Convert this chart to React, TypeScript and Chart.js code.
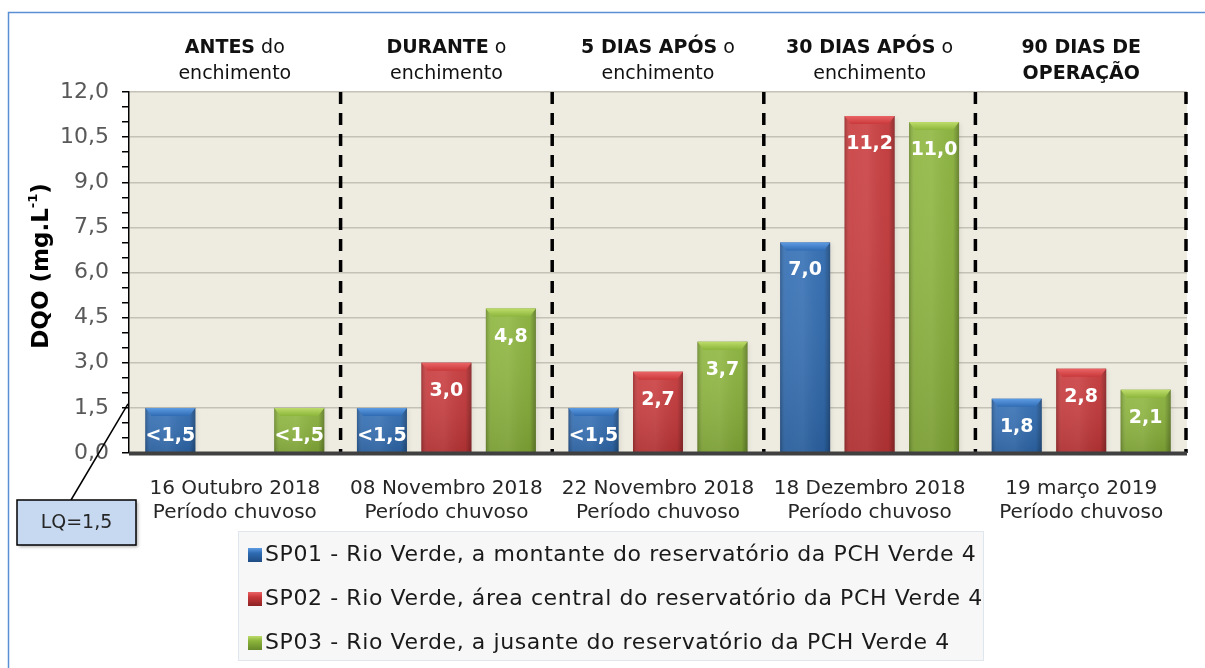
import React, { useEffect, useRef } from "react";
import { Chart, registerables } from "chart.js";

Chart.register(...registerables);

// ---------- data ----------
const dates = ["16 Outubro 2018", "08 Novembro 2018", "22 Novembro 2018", "18 Dezembro 2018", "19 março 2019"];
const periods = ["Período chuvoso", "Período chuvoso", "Período chuvoso", "Período chuvoso", "Período chuvoso"];

const stageBold = ["ANTES", "DURANTE", "5 DIAS APÓS", "30 DIAS APÓS", "90 DIAS DE"];
const stageRest = [" do", " o", " o", " o", ""];
const stageLine2 = ["enchimento", "enchimento", "enchimento", "enchimento", "OPERAÇÃO"];
const stageLine2Bold = [false, false, false, false, true];

const seriesNames = [
  "SP01 - Rio Verde, a montante do reservatório da PCH Verde 4",
  "SP02 - Rio Verde, área central do reservatório da PCH Verde 4",
  "SP03 - Rio Verde, a jusante do reservatório da PCH Verde 4",
];

const sp01 = [1.5, 1.5, 1.5, 7.0, 1.8];
const sp02 = [null, 3.0, 2.7, 11.2, 2.8];
const sp03 = [1.5, 4.8, 3.7, 11.0, 2.1];

const sp01Labels = ["<1,5", "<1,5", "<1,5", "7,0", "1,8"];
const sp02Labels = ["", "3,0", "2,7", "11,2", "2,8"];
const sp03Labels = ["<1,5", "4,8", "3,7", "11,0", "2,1"];

const yMin = 0;
const yMax = 12;
const yMajorStep = 1.5;
const yMinorStep = 0.5;

const lqValue = 1.5;
const lqLabel = "LQ=1,5";
const yTitleMain = "DQO (mg.L";
const yTitleSup = "-1";
const yTitleEnd = ")";

// ---------- styles ----------
const FONT = "'DejaVu Sans', sans-serif";
const palette = [
  { base: "#2f6cb3", light: "#5d9be2", dark: "#1f4c84" },
  { base: "#c9383a", light: "#ea6466", dark: "#8c2224" },
  { base: "#8cb53b", light: "#bddc6a", dark: "#66892a" },
];

export default function App() {
  const canvasRef = useRef<HTMLCanvasElement | null>(null);

  useEffect(() => {
    document.body.style.margin = "0";
    const canvas = canvasRef.current;
    if (!canvas) return;

    const valueLabels = [sp01Labels, sp02Labels, sp03Labels];

    const decorPlugin = {
      id: "decor",
      beforeDraw(chart: any) {
        const { ctx, chartArea } = chart;
        ctx.save();
        ctx.fillStyle = "#ffffff";
        ctx.fillRect(0, 0, chart.width, chart.height);
        // outer frame
        ctx.strokeStyle = "#5b8fd3";
        ctx.lineWidth = 1.5;
        ctx.beginPath();
        ctx.moveTo(8.5, chart.height);
        ctx.lineTo(8.5, 12.5);
        ctx.lineTo(chart.width, 12.5);
        ctx.stroke();
        // plot background
        ctx.fillStyle = "#eeebe0";
        ctx.fillRect(chartArea.left, chartArea.top, chartArea.right - chartArea.left, chartArea.bottom - chartArea.top);
        ctx.restore();
      },
      beforeDatasetsDraw(chart: any) {
        const { ctx } = chart;
        ctx.save();
        chart.data.datasets.forEach((_: any, di: number) => {
          const meta = chart.getDatasetMeta(di);
          meta.data.forEach((el: any, i: number) => {
            const v = chart.data.datasets[di].data[i];
            if (v === null || v === undefined) return;
            const w = el.width;
            const left = el.x - w / 2;
            ctx.shadowColor = "rgba(0,0,0,0.35)";
            ctx.shadowBlur = 5;
            ctx.shadowOffsetX = 2;
            ctx.shadowOffsetY = 1;
            ctx.fillStyle = "rgba(0,0,0,0.25)";
            ctx.fillRect(left, el.y, w, el.base - el.y);
          });
        });
        ctx.restore();
      },
      afterDatasetsDraw(chart: any) {
        const { ctx, chartArea } = chart;
        const xs = chart.scales.x;
        const ys = chart.scales.y;
        ctx.save();
        // bar shading
        chart.data.datasets.forEach((_: any, di: number) => {
          const meta = chart.getDatasetMeta(di);
          const pal = palette[di];
          meta.data.forEach((el: any, i: number) => {
            const v = chart.data.datasets[di].data[i];
            if (v === null || v === undefined) return;
            const w = el.width;
            const left = el.x - w / 2;
            const right = el.x + w / 2;
            const top = el.y;
            const bottom = el.base;
            const h = bottom - top;
            let g = ctx.createLinearGradient(left, 0, right, 0);
            g.addColorStop(0, "rgba(0,0,0,0.22)");
            g.addColorStop(0.12, "rgba(255,255,255,0.06)");
            g.addColorStop(0.45, "rgba(255,255,255,0.08)");
            g.addColorStop(0.88, "rgba(0,0,0,0.04)");
            g.addColorStop(1, "rgba(0,0,0,0.3)");
            ctx.fillStyle = g;
            ctx.fillRect(left, top, w, h);
            g = ctx.createLinearGradient(0, top, 0, bottom);
            g.addColorStop(0, "rgba(255,255,255,0.05)");
            g.addColorStop(1, "rgba(0,0,0,0.12)");
            ctx.fillStyle = g;
            ctx.fillRect(left, top, w, h);
            // top bevel
            const bv = Math.min(8, h / 2);
            g = ctx.createLinearGradient(0, top, 0, top + bv);
            g.addColorStop(0, pal.light);
            g.addColorStop(1, pal.base);
            ctx.fillStyle = g;
            ctx.beginPath();
            ctx.moveTo(left, top);
            ctx.lineTo(right, top);
            ctx.lineTo(right - 6, top + bv);
            ctx.lineTo(left + 6, top + bv);
            ctx.closePath();
            ctx.fill();
            // value label
            const lbl = valueLabels[di][i];
            if (lbl) {
              ctx.fillStyle = "#ffffff";
              ctx.font = `bold 19px ${FONT}`;
              ctx.textAlign = "center";
              ctx.textBaseline = "middle";
              ctx.fillText(lbl, el.x, top + 28);
            }
          });
        });

        // dashed category separators
        ctx.strokeStyle = "#000000";
        ctx.lineWidth = 3.5;
        ctx.setLineDash([12, 9]);
        const n = chart.data.labels.length;
        for (let i = 0; i < n; i++) {
          const cur = xs.getPixelForValue(i);
          const nxt = i + 1 < n ? xs.getPixelForValue(i + 1) : cur + (cur - xs.getPixelForValue(i - 1));
          let bx = (cur + nxt) / 2;
          if (i === n - 1) bx = chartArea.right - 1;
          ctx.beginPath();
          ctx.moveTo(bx, chartArea.top);
          ctx.lineTo(bx, chartArea.bottom);
          ctx.stroke();
        }
        ctx.setLineDash([]);

        // thick baseline
        ctx.fillStyle = "#404040";
        ctx.fillRect(chartArea.left, chartArea.bottom - 1.5, chartArea.right - chartArea.left, 4);

        // stage headings
        ctx.textBaseline = "middle";
        for (let i = 0; i < n; i++) {
          const cx = xs.getPixelForValue(i);
          ctx.font = `bold 19px ${FONT}`;
          const wb = ctx.measureText(stageBold[i]).width;
          ctx.font = `19px ${FONT}`;
          const wr = ctx.measureText(stageRest[i]).width;
          const start = cx - (wb + wr) / 2;
          ctx.fillStyle = "#111111";
          ctx.textAlign = "left";
          ctx.font = `bold 19px ${FONT}`;
          ctx.fillText(stageBold[i], start, 48);
          ctx.font = `19px ${FONT}`;
          ctx.fillText(stageRest[i], start + wb, 48);
          ctx.textAlign = "center";
          ctx.font = stageLine2Bold[i] ? `bold 19px ${FONT}` : `19px ${FONT}`;
          ctx.fillText(stageLine2[i], cx, 74);
        }

        // y-axis title
        ctx.save();
        ctx.translate(40, 266);
        ctx.rotate(-Math.PI / 2);
        ctx.fillStyle = "#000000";
        ctx.font = `bold 23px ${FONT}`;
        const w1 = ctx.measureText(yTitleMain).width;
        const w3 = ctx.measureText(yTitleEnd).width;
        ctx.font = `bold 13px ${FONT}`;
        const w2 = ctx.measureText(yTitleSup).width;
        const tot = w1 + w2 + w3;
        let tx = -tot / 2;
        ctx.textAlign = "left";
        ctx.textBaseline = "alphabetic";
        ctx.font = `bold 23px ${FONT}`;
        ctx.fillText(yTitleMain, tx, 8);
        tx += w1;
        ctx.font = `bold 13px ${FONT}`;
        ctx.fillText(yTitleSup, tx, -3);
        tx += w2;
        ctx.font = `bold 23px ${FONT}`;
        ctx.fillText(yTitleEnd, tx, 8);
        ctx.restore();

        // LQ callout
        const ly = ys.getPixelForValue(lqValue);
        ctx.strokeStyle = "#000000";
        ctx.lineWidth = 1.5;
        ctx.beginPath();
        ctx.moveTo(71, 500);
        ctx.lineTo(chartArea.left - 1, ly - 4);
        ctx.stroke();
        ctx.save();
        ctx.shadowColor = "rgba(0,0,0,0.3)";
        ctx.shadowBlur = 3;
        ctx.shadowOffsetX = 2;
        ctx.shadowOffsetY = 2;
        ctx.fillStyle = "#c6d9f1";
        ctx.fillRect(17, 500, 119, 45);
        ctx.restore();
        ctx.strokeRect(17, 500, 119, 45);
        ctx.fillStyle = "#262626";
        ctx.font = `19px ${FONT}`;
        ctx.textAlign = "center";
        ctx.textBaseline = "middle";
        ctx.fillText(lqLabel, 76.5, 523);

        // legend
        ctx.fillStyle = "#f7f7f7";
        ctx.fillRect(238, 531, 745, 129);
        ctx.strokeStyle = "#dfe6ee";
        ctx.lineWidth = 1;
        ctx.strokeRect(238.5, 531.5, 745, 129);
        const rows = [555, 599, 643];
        chart.data.datasets.forEach((ds: any, di: number) => {
          const pal = palette[di];
          const y = rows[di];
          const sx = 248;
          const sq = 14;
          const g = ctx.createLinearGradient(0, y - sq / 2, 0, y + sq / 2);
          g.addColorStop(0, pal.light);
          g.addColorStop(0.35, pal.base);
          g.addColorStop(1, pal.dark);
          ctx.fillStyle = g;
          ctx.fillRect(sx, y - sq / 2, sq, sq);
          ctx.fillStyle = "#1a1a1a";
          ctx.font = `22px ${FONT}`;
          (ctx as any).letterSpacing = "0.6px";
          ctx.textAlign = "left";
          ctx.textBaseline = "middle";
          ctx.fillText(ds.label, sx + sq + 3, y);
          (ctx as any).letterSpacing = "0px";
        });
        ctx.restore();
      },
    };

    const chart = new Chart(canvas, {
      type: "bar",
      data: {
        labels: dates.map((d, i) => [d, periods[i]]),
        datasets: [sp01, sp02, sp03].map((arr, di) => ({
          label: seriesNames[di],
          data: arr,
          backgroundColor: palette[di].base,
          borderWidth: 0,
          categoryPercentage: 0.914,
          barPercentage: 0.775,
        })),
      },
      options: {
        responsive: false,
        animation: false,
        layout: { padding: { left: 0, right: 18, top: 92, bottom: 135 } },
        plugins: {
          legend: { display: false },
          tooltip: { enabled: false },
          title: { display: false },
        },
        scales: {
          x: {
            grid: { display: false },
            border: { display: false },
            ticks: {
              color: "#262626",
              font: { family: FONT, size: 20 },
              padding: 16,
              maxRotation: 0,
              autoSkip: false,
            },
            afterFit(scale: any) {
              scale.height = 80;
            },
          },
          y: {
            min: yMin,
            max: yMax,
            border: { display: true, color: "#000000", width: 1.5 },
            grid: {
              drawTicks: true,
              tickLength: 7,
              tickColor: "#000000",
              tickWidth: 1.5,
              lineWidth: 1.5,
              color: (c: any) => {
                const v = c.tick ? c.tick.value : 0;
                const r = Math.abs(v / yMajorStep - Math.round(v / yMajorStep));
                return r < 1e-6 && v > 0 ? "#c4c1b6" : "rgba(0,0,0,0)";
              },
            },
            ticks: {
              stepSize: yMinorStep,
              autoSkip: false,
              color: "#595959",
              font: { family: FONT, size: 22 },
              padding: 13,
              callback: (v: any) => {
                const r = Math.abs(v / yMajorStep - Math.round(v / yMajorStep));
                return r < 1e-6 ? Number(v).toFixed(1).replace(".", ",") : "";
              },
            },
            afterFit(scale: any) {
              scale.width = 129;
            },
          },
        },
      },
      plugins: [decorPlugin],
    });

    return () => chart.destroy();
  }, []);

  return <canvas ref={canvasRef} width={1205} height={668} style={{ display: "block" }} />;
}
